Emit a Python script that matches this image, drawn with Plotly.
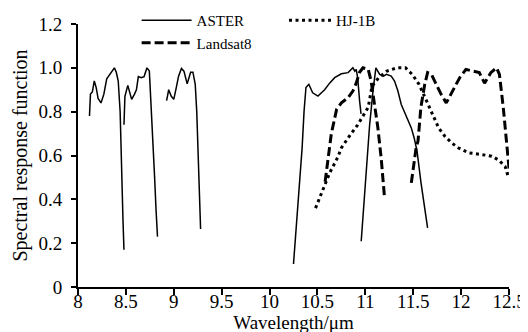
import plotly.graph_objects as go

# ---------------- data ----------------
aster_b10_x = [8.12, 8.13, 8.15, 8.17, 8.19, 8.21, 8.24, 8.27, 8.30, 8.33, 8.36, 8.38, 8.40, 8.42, 8.44, 8.45, 8.46, 8.47, 8.48]
aster_b10_y = [0.78, 0.88, 0.89, 0.94, 0.91, 0.86, 0.84, 0.88, 0.95, 0.97, 0.99, 1.00, 0.98, 0.94, 0.80, 0.60, 0.42, 0.30, 0.17]

aster_b11_x = [8.48, 8.49, 8.52, 8.54, 8.56, 8.59, 8.61, 8.63, 8.66, 8.69, 8.72, 8.745, 8.765, 8.78, 8.79, 8.80, 8.815, 8.83]
aster_b11_y = [0.74, 0.87, 0.92, 0.88, 0.856, 0.88, 0.90, 0.96, 0.955, 0.96, 1.00, 0.985, 0.83, 0.70, 0.60, 0.50, 0.35, 0.23]

aster_b12_x = [8.925, 8.947, 8.974, 9.0, 9.026, 9.05, 9.08, 9.106, 9.14, 9.176, 9.2, 9.224, 9.24, 9.25, 9.26, 9.265, 9.28]
aster_b12_y = [0.85, 0.90, 0.87, 0.856, 0.91, 0.962, 0.997, 0.985, 0.927, 0.98, 0.98, 0.925, 0.80, 0.667, 0.516, 0.425, 0.265]

aster_b13_x = [10.25, 10.285, 10.32, 10.34, 10.36, 10.38, 10.41, 10.45, 10.505, 10.575, 10.627, 10.68, 10.75, 10.82, 10.87, 10.89, 10.905, 10.92, 10.94, 10.955]
aster_b13_y = [0.105, 0.31, 0.516, 0.635, 0.80, 0.91, 0.925, 0.886, 0.871, 0.90, 0.93, 0.955, 0.973, 0.978, 1.00, 0.985, 0.993, 0.955, 0.85, 0.79]

aster_b14_x = [10.957, 10.99, 11.03, 11.045, 11.08, 11.11, 11.15, 11.19, 11.22, 11.27, 11.305, 11.34, 11.375, 11.43, 11.48, 11.51, 11.54, 11.58, 11.62, 11.65]
aster_b14_y = [0.209, 0.42, 0.635, 0.74, 0.894, 1.00, 0.97, 0.962, 0.97, 0.962, 0.94, 0.894, 0.833, 0.78, 0.726, 0.68, 0.62, 0.48, 0.36, 0.27]

landsat_b10_x = [10.58, 10.61, 10.645, 10.70, 10.75, 10.82, 10.87, 10.905, 10.94, 10.975, 11.03, 11.06, 11.10, 11.13, 11.165, 11.18, 11.20]
landsat_b10_y = [0.48, 0.59, 0.70, 0.81, 0.84, 0.864, 0.894, 0.93, 0.98, 1.00, 0.993, 0.94, 0.82, 0.73, 0.59, 0.50, 0.41]

landsat_b11_x = [11.48, 11.53, 11.55, 11.58, 11.62, 11.65, 11.69, 11.74, 11.79, 11.845, 11.91, 11.985, 12.05, 12.12, 12.19, 12.245, 12.31, 12.37, 12.40, 12.44, 12.47, 12.505]
landsat_b11_y = [0.475, 0.635, 0.666, 0.82, 0.924, 0.978, 0.97, 0.924, 0.88, 0.84, 0.894, 0.955, 0.993, 0.985, 0.978, 0.93, 0.978, 1.00, 0.97, 0.82, 0.666, 0.52]

hj1b_x = [10.48, 10.575, 10.627, 10.71, 10.75, 10.82, 10.92, 11.03, 11.07, 11.14, 11.225, 11.33, 11.42, 11.49, 11.56, 11.625, 11.70, 11.765, 11.83, 11.90, 11.97, 12.08, 12.22, 12.32, 12.39, 12.46, 12.49]
hj1b_y = [0.36, 0.467, 0.52, 0.59, 0.635, 0.68, 0.74, 0.82, 0.917, 0.955, 0.985, 1.00, 1.00, 0.97, 0.925, 0.863, 0.787, 0.726, 0.688, 0.658, 0.635, 0.612, 0.604, 0.597, 0.58, 0.55, 0.506]

x_ticks = [8, 8.5, 9, 9.5, 10, 10.5, 11, 11.5, 12, 12.5]
x_tick_text = ["8", "8.5", "9", "9.5", "10", "10.5", "11", "11.5", "12", "12.5"]
y_ticks = [0, 0.2, 0.4, 0.6, 0.8, 1.0, 1.2]
y_tick_text = ["0", "0.2", "0.4", "0.6", "0.8", "1.0", "1.2"]

FONT = "Liberation Serif, Times New Roman, serif"

fig = go.Figure()

aster_bands = [(aster_b10_x, aster_b10_y), (aster_b11_x, aster_b11_y), (aster_b12_x, aster_b12_y),
               (aster_b13_x, aster_b13_y), (aster_b14_x, aster_b14_y)]
for i, (bx, by) in enumerate(aster_bands):
    fig.add_trace(go.Scatter(x=bx, y=by, mode="lines", name="ASTER", legendgroup="aster",
                             showlegend=(i == 0), legend="legend", legendrank=1,
                             line=dict(color="black", width=1.5)))

for i, (bx, by) in enumerate([(landsat_b10_x, landsat_b10_y), (landsat_b11_x, landsat_b11_y)]):
    fig.add_trace(go.Scatter(x=bx, y=by, mode="lines", name="Landsat8", legendgroup="landsat",
                             showlegend=(i == 0), legend="legend", legendrank=2,
                             line=dict(color="black", width=3, dash="9px,4px")))

fig.add_trace(go.Scatter(x=hj1b_x, y=hj1b_y, mode="lines", name="HJ-1B", legend="legend2",
                         line=dict(color="black", width=3, dash="3px,3.5px")))

fig.update_layout(
    width=528, height=332,
    margin=dict(l=70, r=27, t=16, b=53, autoexpand=False),
    paper_bgcolor="white", plot_bgcolor="white",
    font=dict(family=FONT, size=19, color="black"),
    legend=dict(x=0.136, y=1.076, xanchor="left", yanchor="top", bgcolor="rgba(0,0,0,0)",
                font=dict(size=15), itemwidth=50, tracegroupgap=0),
    legend2=dict(x=0.478, y=1.076, xanchor="left", yanchor="top", bgcolor="rgba(0,0,0,0)",
                 font=dict(size=15), itemwidth=42),
    xaxis=dict(range=[8, 12.5], tickvals=x_ticks, ticktext=x_tick_text, automargin=False,
               showline=True, linecolor="black", linewidth=2, ticks="outside",
               ticklen=6, tickwidth=2, tickcolor="black", showgrid=False, zeroline=False,
               ticklabelstandoff=-10,
               title=dict(text="Wavelength/μm", font=dict(size=19), standoff=2)),
    yaxis=dict(range=[0, 1.2], tickvals=y_ticks, ticktext=y_tick_text, automargin=False,
               showline=True, linecolor="black", linewidth=2, ticks="outside",
               ticklen=5, tickwidth=2, tickcolor="black", showgrid=False, zeroline=False,
               ticklabelstandoff=5,
               title=dict(text="Spectral response function", font=dict(size=20), standoff=5)),
)

fig.write_html("out.html")
